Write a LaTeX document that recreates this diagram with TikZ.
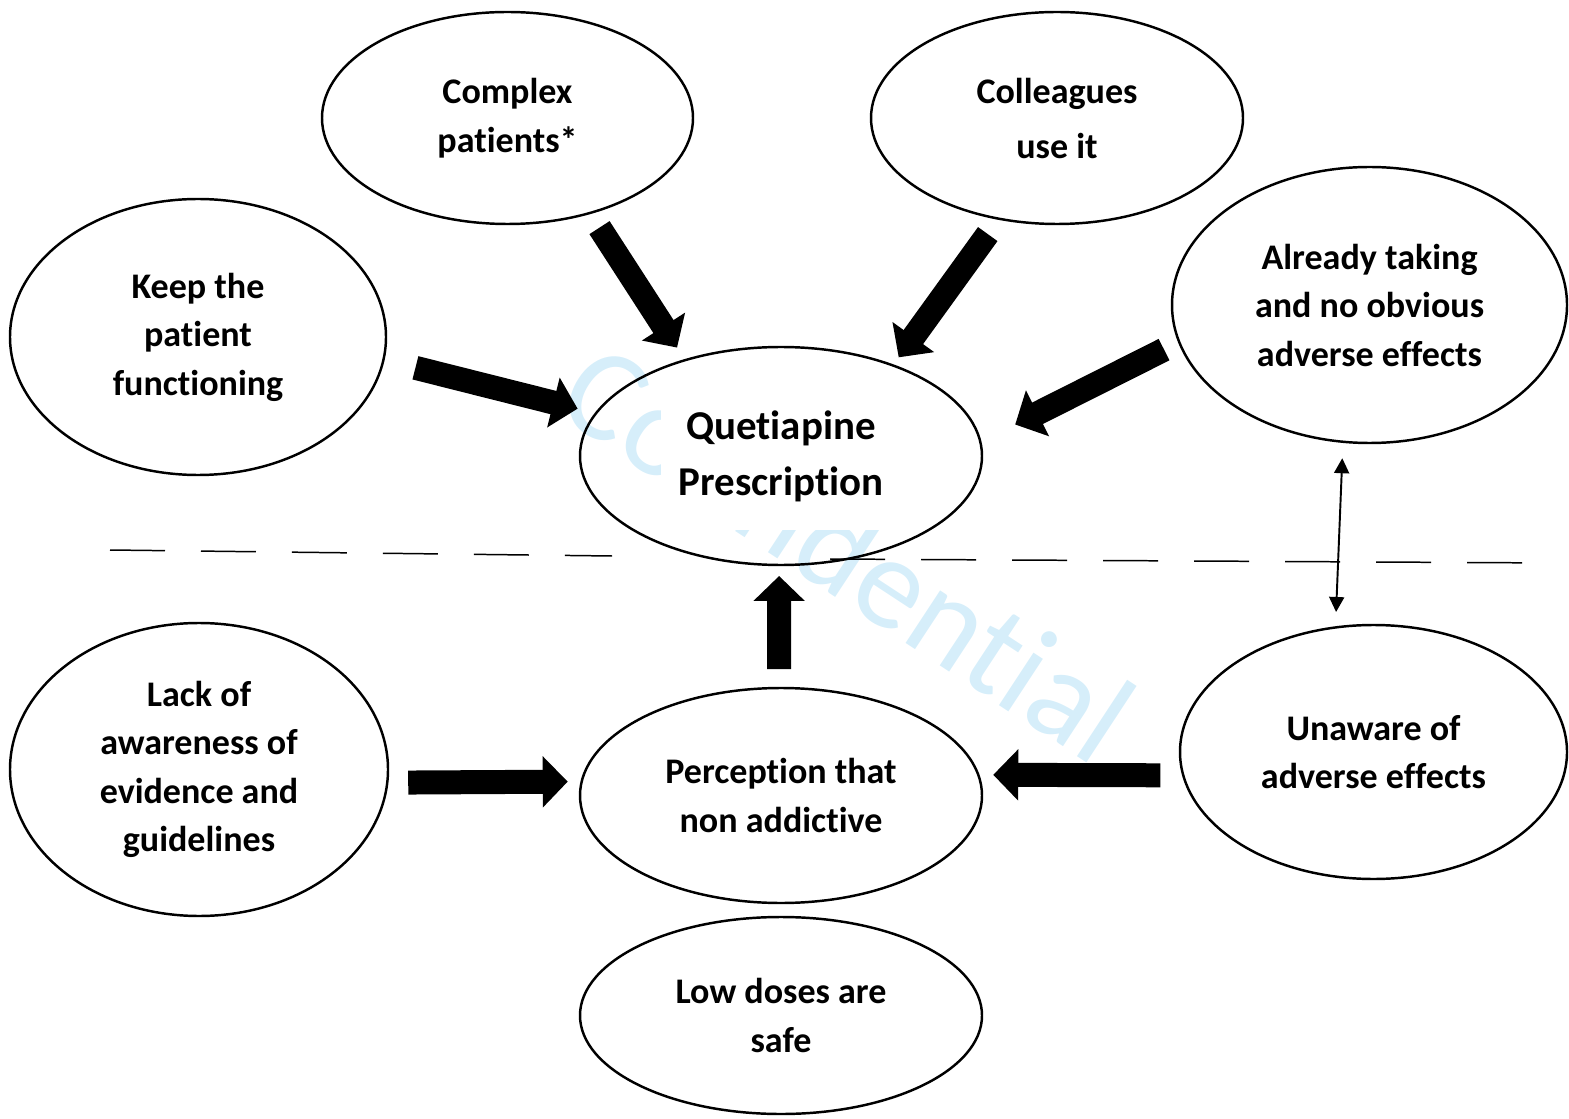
\documentclass[tikz,border=0pt]{standalone}
\usepackage{fontspec}
\setmainfont{Carlito}[Ligatures=NoCommon]
\usetikzlibrary{arrows.meta, shapes.geometric}
\definecolor{marca}{RGB}{214,238,250}

\begin{document}
\begin{tikzpicture}[
    every node/.style={font=\fontsize{20.5}{27.6}\selectfont\bfseries},
    oval/.style 2 args={ellipse, draw, line width=1.4pt, inner sep=0pt, outer sep=0pt,
        align=center, minimum width=#1, minimum height=#2},
    flecha/.style={line width=0.48cm, -{Triangle[length=0.5cm, width=1.0cm]}},
    doble/.style={line width=1.1pt, {Triangle[length=0.3cm, width=0.3cm]}-{Triangle[length=0.3cm, width=0.3cm]}}]
    \useasboundingbox (0,0) rectangle (31.38,-22.38);
    % Marca de agua
    \node[text=marca, font=\fontsize{75}{80}\selectfont, rotate=-33.3] (wm) at (16.98,-11.04) {Confidential};
    % Linea divisoria
    \draw[line width=0.85pt, dash pattern=on 1.1cm off 0.72cm] (2.2,-11.0) -- (12.24,-11.12);
    \draw[line width=0.85pt, dash pattern=on 1.1cm off 0.72cm] (16.6,-11.18) -- (31.14,-11.26);
    % Factores
    \node[oval={7.42cm}{4.24cm}] (cp) at (10.15,-2.36) {Complex\\patients*};
    \node[oval={7.44cm}{4.24cm}, font=\fontsize{20.5}{31.3}\selectfont\bfseries] (cu) at (21.14,-2.36) {Colleagues\\use it};
    \node[oval={7.52cm}{5.52cm}] (kp) at (3.96,-6.74) {Keep the\\patient\\functioning};
    \node[oval={7.90cm}{5.52cm}] (at) at (27.39,-6.10) {Already taking\\and no obvious\\adverse effects};
    \node[oval={8.04cm}{4.36cm}, font=\fontsize{23.3}{31.9}\selectfont\bfseries] (qp) at (15.62,-9.12)
        {\setlength{\fboxsep}{0.35cm}\colorbox{white}{\begin{tabular}{@{}c@{}}Quetiapine\\Prescription\end{tabular}}};
    \node[oval={7.56cm}{5.86cm}] (la) at (3.98,-15.39) {Lack of\\awareness of\\evidence and\\guidelines};
    \node[oval={8.04cm}{4.30cm}] (pn) at (15.62,-15.91) {Perception that\\non addictive};
    \node[oval={7.74cm}{5.08cm}] (un) at (27.47,-15.04) {Unaware of\\adverse effects};
    \node[oval={8.04cm}{3.94cm}] (ld) at (15.62,-20.31) {Low doses are\\safe};
    % Flechas gruesas
    \foreach \desde/\hasta/\ci/\cf in {cp.-49.2/qp.135.8/0.35/0.30, cu.-120.35/qp.39.3/0.38/0.20,
        at.-169.15/qp.4.5/0.34/0.78, kp.-7.3/qp.167.8/0.66/0.38, pn.91.6/qp.-91.6/0.38/0.22,
        la.-4.56/pn.176.85/0.42/0.28, un.-173.42/pn.6.23/0.46/0.30} {
        \draw[flecha, shorten <=\ci cm, shorten >=\cf cm] (\desde) -- (\hasta);
    }
    % Flecha doble
    \draw[doble, shorten <=0.33cm, shorten >=0.31cm] (at.-101.4) -- (un.107.2);
\end{tikzpicture}
\end{document}
